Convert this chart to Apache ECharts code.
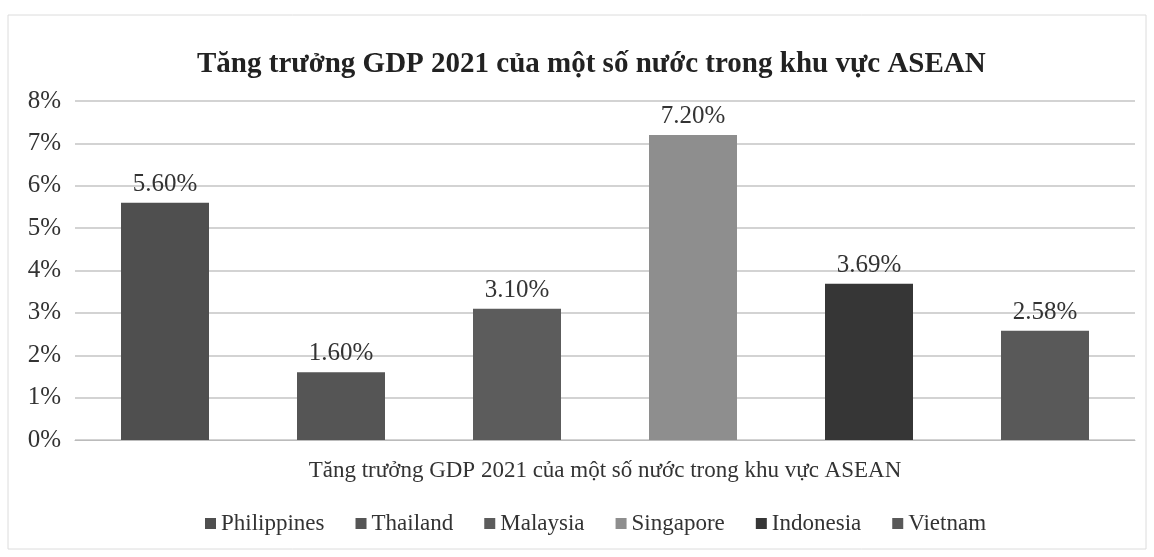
<!DOCTYPE html>
<html>
<head>
<meta charset="utf-8">
<script src="https://cdn.jsdelivr.net/npm/echarts@6/dist/echarts.min.js"></script>
<style>
html,body{margin:0;padding:0;background:#fff;}
#c{width:1154px;height:557px;}
</style>
</head>
<body>
<div id="c"></div>
<script>
const title = 'Tăng trưởng GDP 2021 của một số nước trong khu vực ASEAN';
const category = ['Tăng trưởng GDP 2021 của một số nước trong khu vực ASEAN'];
const countries = ['Philippines', 'Thailand', 'Malaysia', 'Singapore', 'Indonesia', 'Vietnam'];
const values = [5.60, 1.60, 3.10, 7.20, 3.69, 2.58];
const colors = ['#4f4f4f', '#555555', '#5c5c5c', '#8e8e8e', '#363636', '#595959'];
const yTicks = [0, 1, 2, 3, 4, 5, 6, 7, 8];

const serif = '"Liberation Serif", "DejaVu Serif", serif';
const chart = echarts.init(document.getElementById('c'), null, {renderer: 'canvas'});

const series = countries.map((name, i) => ({
  name: name,
  type: 'bar',
  data: [values[i]],
  barWidth: 88,
  barGap: '100%',
  itemStyle: {color: colors[i]},
  label: {
    show: true,
    position: 'top',
    distance: 6,
    formatter: p => p.value.toFixed(2) + '%',
    fontFamily: serif,
    fontSize: 25,
    color: '#333'
  }
}));

chart.setOption({
  backgroundColor: '#fff',
  animation: false,
  color: colors,
  title: {
    text: title,
    left: 192,
    top: 45,
    textStyle: {fontFamily: serif, fontWeight: 'bold', fontSize: 29, color: '#222'}
  },
  graphic: [{
    type: 'rect',
    shape: {x: 8, y: 15, width: 1138, height: 534},
    style: {fill: 'none', stroke: '#dcdcdc', lineWidth: 1}
  }],
  legend: {
    bottom: 17,
    left: 200,
    itemWidth: 11,
    itemHeight: 11,
    itemGap: 31,
    icon: 'rect',
    textStyle: {fontFamily: serif, fontSize: 23, color: '#333'},
    data: countries
  },
  grid: {left: 75, right: 19, top: 101, bottom: 117},
  xAxis: {
    type: 'category',
    data: category,
    axisLine: {show: true, lineStyle: {color: '#bbb'}},
    axisTick: {show: false},
    axisLabel: {
      show: true,
      margin: 19,
      fontFamily: serif,
      fontSize: 23,
      color: '#333'
    }
  },
  yAxis: {
    type: 'value',
    min: yTicks[0],
    max: yTicks[yTicks.length - 1],
    interval: 1,
    axisLine: {show: false},
    axisTick: {show: false},
    splitLine: {lineStyle: {color: '#c4c4c4', width: 1.5}},
    axisLabel: {
      formatter: v => v + '%',
      fontFamily: serif,
      fontSize: 25,
      color: '#333',
      margin: 14
    }
  },
  series: series
});
</script>
</body>
</html>
